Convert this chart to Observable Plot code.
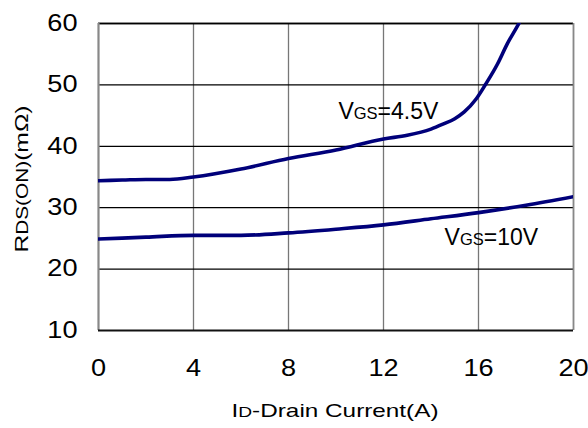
<!DOCTYPE html>
<html><head><meta charset="utf-8">
<script src="https://cdn.jsdelivr.net/npm/d3@7"></script>
<script src="https://cdn.jsdelivr.net/npm/@observablehq/plot@0.6"></script>
<style>
body{margin:0;background:#fff;font-family:"Liberation Sans",Arial,sans-serif;}
</style></head>
<body><div id="chart"></div>
<script>
const xTicks = [0, 4, 8, 12, 16, 20];
const yTicks = [10, 20, 30, 40, 50, 60];
const i45 = [0, 1, 2, 3, 4, 6, 8, 10, 12, 13, 14, 14.5, 15, 15.4, 15.9, 16.3, 16.8, 17.2, 17.7, 17.9];
const r45 = [34.4, 34.5, 34.6, 34.6, 35.0, 36.3, 38.0, 39.4, 41.2, 41.8, 42.8, 43.6, 44.5, 45.6, 47.7, 50.1, 53.4, 56.6, 60.0, 61.5];
const i10 = [0, 2, 4, 6, 8, 10, 12, 14, 16, 18, 20];
const r10 = [24.9, 25.2, 25.5, 25.5, 25.9, 26.5, 27.2, 28.2, 29.2, 30.4, 31.8];
const labelX = [10.1, 14.57];
const labelY = [44.5, 24.0];
const labelText = ["VGS=4.5V", "VGS=10V"];
const labelSub = ["GS", "GS"];
const labelRest = ["=4.5V", "=10V"];

const s45 = i45.map((x, k) => ({x, y: r45[k]}));
const s10 = i10.map((x, k) => ({x, y: r10[k]}));
const labels = labelX.map((x, k) => ({x, y: labelY[k], t: labelText[k], k}));
const innerY = yTicks.filter(v => v > 10);
const innerX = xTicks.filter(v => v > 0);

const chart = Plot.plot({
  width: 588, height: 428,
  marginTop: 23, marginLeft: 98, marginRight: 15, marginBottom: 98,
  style: {fontFamily: '"Liberation Sans", Arial, sans-serif', background: "#fff"},
  x: {domain: [0, 20], ticks: xTicks, label: null},
  y: {domain: [10, 60], ticks: yTicks, label: null},
  marks: [
    Plot.ruleX(innerX, {stroke: "#777", strokeWidth: 1.3, strokeOpacity: 1}),
    Plot.ruleY(innerY, {stroke: "#000", strokeWidth: 1.3, strokeOpacity: 1}),
    Plot.ruleY([60], {stroke: "#000", strokeWidth: 1.3}),
    Plot.ruleX([20], {stroke: "#888", strokeWidth: 1.6}),
    Plot.ruleX([0], {stroke: "#888", strokeWidth: 2.2}),
    Plot.ruleY([10], {stroke: "#111", strokeWidth: 2}),
    Plot.axisX({ticks: xTicks, tickSize: 0, tickPadding: 29, fontSize: 23, fill: "#000", label: null, className: "xax"}),
    Plot.axisY({ticks: yTicks, tickSize: 0, tickPadding: 21, fontSize: 23, fill: "#000", label: null, className: "yax"}),
    Plot.line(s45, {x: "x", y: "y", stroke: "#00007a", strokeWidth: 3.6, curve: "monotone-x", clip: true}),
    Plot.line(s10, {x: "x", y: "y", stroke: "#00007a", strokeWidth: 3.6, curve: "monotone-x", clip: true}),
    Plot.text(labels, {x: "x", y: "y", text: "t", textAnchor: "start", lineAnchor: "bottom", fontSize: 23, fill: "#000", className: "vgs"})
  ]
});
document.getElementById("chart").appendChild(chart);

const svg = d3.select(chart);
// widen tick labels to match the reference's broad lettering
svg.selectAll(".xax text, .yax text").each(function() {
  const el = d3.select(this);
  const t = el.attr("transform") || "";
  el.attr("transform", t + " scale(1.18,1)");
});
// mixed-size label text
svg.selectAll(".vgs text").each(function(d, i) {
  const el = d3.select(this);
  el.text(null);
  el.append("tspan").text("V");
  el.append("tspan").attr("font-size", 16.5).text(labelSub[i]);
  el.append("tspan").text(labelRest[i]);
});
// y-axis title
const yt = svg.append("text")
  .attr("transform", "translate(28,179) rotate(-90) scale(1.3,1)")
  .attr("text-anchor", "middle")
  .attr("font-size", 19).attr("fill", "#000");
yt.append("tspan").text("R");
yt.append("tspan").attr("font-size", 16).text("DS(ON)");
yt.append("tspan").text("(mΩ)");
// x-axis title
const xt = svg.append("text")
  .attr("transform", "translate(335,417) scale(1.28,1)")
  .attr("text-anchor", "middle")
  .attr("font-size", 19).attr("fill", "#000");
xt.append("tspan").text("I");
xt.append("tspan").attr("font-size", 15).text("D");
xt.append("tspan").text("-Drain Current(A)");
</script>
</body></html>
